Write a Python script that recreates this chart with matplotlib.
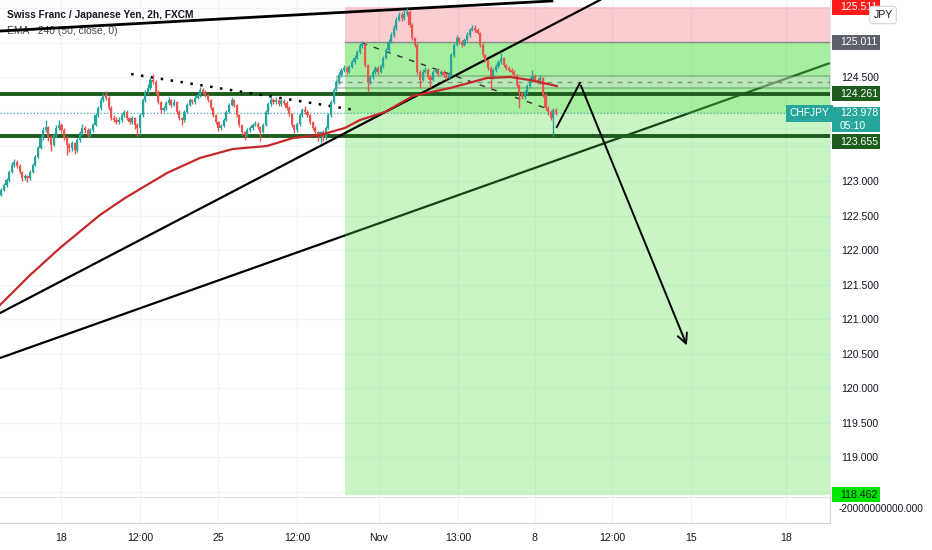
import numpy as np
import matplotlib.pyplot as plt
from matplotlib.patches import Rectangle

plt.rcParams['font.family'] = ['Liberation Sans Narrow', 'Liberation Sans', 'DejaVu Sans']

# --- data (2h candles, CHFJPY) ---
first_open = 122.80
closes = [122.869, 122.942, 123.014, 123.130, 123.231, 123.275, 123.217, 123.130, 123.043, 123.072,
          123.043, 123.130, 123.231, 123.347, 123.477, 123.622, 123.738, 123.781, 123.636, 123.521,
          123.665, 123.767, 123.810, 123.738, 123.622, 123.521, 123.477, 123.550, 123.448, 123.593,
          123.694, 123.767, 123.738, 123.665, 123.738, 123.810, 123.955, 124.056, 124.172, 124.244,
          124.201, 124.056, 123.911, 123.883, 123.854, 123.883, 123.955, 123.998, 123.911, 123.854,
          123.911, 123.810, 123.767, 123.955, 124.172, 124.287, 124.345, 124.461, 124.432, 124.287,
          124.143, 124.027, 124.056, 124.128, 124.172, 124.099, 124.143, 123.998, 123.911, 123.883,
          123.998, 124.099, 124.172, 124.143, 124.201, 124.244, 124.316, 124.287, 124.244, 124.172,
          124.056, 123.955, 123.854, 123.767, 123.796, 123.883, 123.998, 124.099, 124.172, 124.099,
          123.955, 123.810, 123.709, 123.665, 123.738, 123.767, 123.810, 123.825, 123.781, 123.709,
          123.810, 123.998, 124.114, 124.172, 124.143, 124.172, 124.114, 124.157, 124.128, 124.056,
          123.969, 123.810, 123.738, 123.825, 123.955, 124.027, 123.998, 123.955, 123.854, 123.767,
          123.709, 123.651, 123.709, 123.622, 123.767, 123.955, 124.143, 124.316, 124.432, 124.534,
          124.606, 124.635, 124.577, 124.649, 124.722, 124.780, 124.866, 124.953, 124.982, 124.678,
          124.432, 124.505, 124.577, 124.635, 124.577, 124.664, 124.780, 124.895, 125.011, 125.112,
          125.214, 125.329, 125.402, 125.358, 125.416, 125.445, 125.257, 125.069, 124.968, 124.577,
          124.461, 124.577, 124.606, 124.505, 124.461, 124.577, 124.606, 124.548, 124.577, 124.534,
          124.490, 124.534, 124.823, 124.968, 125.069, 125.011, 124.968, 125.040, 125.112, 125.185,
          125.214, 125.185, 125.141, 124.968, 124.823, 124.751, 124.635, 124.490, 124.606, 124.664,
          124.722, 124.780, 124.678, 124.635, 124.606, 124.577, 124.534, 124.389, 124.273, 124.215,
          124.287, 124.374, 124.461, 124.519, 124.461, 124.432, 124.490, 124.244, 124.056, 123.998,
          123.911, 124.027, 123.978]
highs = [122.90, 122.97, 123.05, 123.16, 123.27, 123.32, 123.31, 123.24, 123.15, 123.10,
         123.09, 123.16, 123.26, 123.38, 123.51, 123.66, 123.78, 123.88, 123.80, 123.66,
         123.70, 123.81, 123.88, 123.84, 123.76, 123.65, 123.55, 123.58, 123.57, 123.62,
         123.72, 123.82, 123.80, 123.76, 123.77, 123.84, 123.99, 124.09, 124.21, 124.28,
         124.30, 124.23, 124.08, 123.95, 123.92, 123.92, 123.99, 124.03, 124.02, 123.93,
         123.94, 123.93, 123.84, 123.98, 124.20, 124.32, 124.40, 124.50, 124.55, 124.46,
         124.31, 124.16, 124.09, 124.16, 124.21, 124.19, 124.18, 124.16, 124.02, 123.93,
         124.03, 124.13, 124.20, 124.19, 124.23, 124.27, 124.36, 124.34, 124.31, 124.26,
         124.19, 124.07, 123.97, 123.87, 123.82, 123.91, 124.03, 124.13, 124.21, 124.19,
         124.12, 123.97, 123.83, 123.73, 123.77, 123.80, 123.84, 123.87, 123.85, 123.80,
         123.84, 124.03, 124.15, 124.23, 124.20, 124.21, 124.19, 124.19, 124.18, 124.16,
         124.08, 123.99, 123.83, 123.85, 123.98, 124.06, 124.08, 124.02, 123.97, 123.87,
         123.79, 123.73, 123.73, 123.74, 123.79, 123.98, 124.17, 124.35, 124.46, 124.57,
         124.64, 124.68, 124.66, 124.68, 124.75, 124.82, 124.90, 124.99, 125.03, 125.00,
         124.70, 124.54, 124.61, 124.67, 124.66, 124.70, 124.81, 124.93, 125.05, 125.15,
         125.26, 125.37, 125.45, 125.44, 125.47, 125.51, 125.47, 125.28, 125.09, 124.99,
         124.60, 124.62, 124.65, 124.63, 124.53, 124.61, 124.64, 124.63, 124.61, 124.60,
         124.56, 124.57, 124.85, 125.00, 125.11, 125.09, 125.04, 125.07, 125.15, 125.22,
         125.26, 125.26, 125.21, 125.16, 124.99, 124.84, 124.77, 124.66, 124.64, 124.70,
         124.75, 124.85, 124.80, 124.70, 124.66, 124.63, 124.60, 124.55, 124.41, 124.30,
         124.32, 124.40, 124.50, 124.61, 124.55, 124.49, 124.53, 124.51, 124.27, 124.08,
         124.02, 124.05, 124.06]
lows = [122.78, 122.85, 122.92, 122.99, 123.11, 123.20, 123.19, 123.10, 123.00, 123.02,
        122.98, 123.02, 123.11, 123.21, 123.33, 123.46, 123.60, 123.71, 123.58, 123.44,
        123.50, 123.64, 123.74, 123.70, 123.59, 123.38, 123.42, 123.44, 123.39, 123.42,
        123.57, 123.67, 123.70, 123.63, 123.64, 123.71, 123.79, 123.93, 124.03, 124.15,
        124.17, 124.03, 123.88, 123.85, 123.82, 123.83, 123.86, 123.93, 123.88, 123.82,
        123.83, 123.75, 123.65, 123.66, 123.93, 124.15, 124.26, 124.32, 124.40, 124.26,
        124.12, 123.99, 124.00, 124.03, 124.10, 124.07, 124.08, 123.97, 123.88, 123.81,
        123.86, 123.98, 124.08, 124.11, 124.12, 124.18, 124.22, 124.26, 124.22, 124.15,
        124.03, 123.93, 123.82, 123.73, 123.74, 123.78, 123.87, 123.98, 124.08, 124.07,
        123.93, 123.78, 123.67, 123.59, 123.64, 123.71, 123.74, 123.79, 123.75, 123.58,
        123.69, 123.79, 123.97, 124.09, 124.11, 124.12, 124.08, 124.09, 124.10, 124.03,
        123.94, 123.78, 123.70, 123.71, 123.80, 123.93, 123.97, 123.92, 123.82, 123.74,
        123.68, 123.58, 123.55, 123.58, 123.60, 123.75, 123.93, 124.12, 124.30, 124.40,
        124.51, 124.58, 124.55, 124.56, 124.63, 124.70, 124.76, 124.84, 124.93, 124.65,
        124.29, 124.40, 124.48, 124.55, 124.55, 124.56, 124.64, 124.76, 124.87, 124.99,
        125.09, 125.19, 125.31, 125.32, 125.33, 125.39, 125.23, 125.04, 124.94, 124.55,
        124.35, 124.44, 124.56, 124.48, 124.34, 124.44, 124.56, 124.52, 124.53, 124.50,
        124.46, 124.47, 124.52, 124.80, 124.95, 124.98, 124.94, 124.95, 125.02, 125.09,
        125.17, 125.16, 125.12, 124.94, 124.80, 124.72, 124.61, 124.31, 124.47, 124.58,
        124.64, 124.70, 124.65, 124.61, 124.58, 124.55, 124.50, 124.36, 124.05, 124.18,
        124.19, 124.26, 124.35, 124.44, 124.43, 124.40, 124.41, 124.22, 124.03, 123.96,
        123.88, 123.65, 123.95]

# EMA 50 (240 min) points: (bar, price)
ema_bar = [-0.5, 11.0, 22.4, 37.7, 47.3, 63.3, 75.9, 88.5, 101.5, 111.5,
           121.8, 131.3, 137.1, 146.6, 157.3, 171.5, 185.6, 194.4, 202.0, 212.3]
ema_val = [121.205, 121.639, 122.030, 122.508, 122.754, 123.115, 123.333, 123.463, 123.506, 123.622,
           123.665, 123.767, 123.883, 123.998, 124.230, 124.345, 124.490, 124.505, 124.461, 124.374]

# time axis
tick_pos = [22.8, 53.0, 82.8, 113.0, 144.3, 174.5, 203.9, 233.4, 263.6, 299.9]
tick_lbl = ['18', '12:00', '25', '12:00', 'Nov', '13:00', '8', '12:00', '15', '18']
price_ticks = [119.0, 119.5, 120.0, 120.5, 121.0, 121.5, 122.0, 122.5, 123.0, 124.5]
grid_levels = [118.5, 119.0, 119.5, 120.0, 120.5, 121.0, 121.5, 122.0, 122.5, 123.0,
               123.5, 124.0, 124.5, 125.0, 125.5]

# levels / position tool
stop_price = 125.511
entry_price = 125.011
target_price = 118.462
last_price = 123.978
resistance = 124.261
support = 123.655
zone_top, zone_bot, zone_mid = 124.519, 124.345, 124.432
position_start = 131.3
zone_start = 128.3

# drawings (bar, price)
top_line = ([-0.5, 210.4], [125.170, 125.605])
rise_line = ([-0.5, 228.8], [121.089, 125.619])
long_line = ([-0.5, 316.7], [120.438, 124.707])
dotted_line = ([49.6, 135.2], [124.548, 124.027])
dashed_line = ([137.8, 208.9], [124.997, 124.042])
arrow_bar = [212.3, 221.1, 262.4]
arrow_val = [123.781, 124.418, 120.583]

# --- figure ---
W, H = 932, 550
fig = plt.figure(figsize=(W / 100, H / 100), dpi=100)
ax = fig.add_axes([0, 1 - 497 / H, 830 / W, 497 / H])
ax2 = fig.add_axes([0, 1 - 523 / H, 830 / W, 26 / H])

XMIN, XMAX = -0.5, 316.7
ax.set_xlim(XMIN, XMAX)
ax.set_ylim(118.427, 125.619)

up_c, dn_c = '#26a69a', '#ef5350'
txt_c = '#131722'
fs = 7.6

# grid
for g in grid_levels:
    ax.axhline(g, color='#f0f3fa', lw=0.9, zorder=0)
for t in tick_pos:
    ax.axvline(t, color='#f0f3fa', lw=0.9, zorder=0)
    ax2.axvline(t, color='#f0f3fa', lw=0.9, zorder=0)

# long trendline sits under the position box
ax.plot(*long_line, color='black', lw=1.6, zorder=1, solid_capstyle='butt')

# position tool (short)
ax.add_patch(Rectangle((position_start, entry_price), XMAX - position_start, stop_price - entry_price,
                       fc='#f23645', alpha=0.25, ec='none', zorder=2))
ax.add_patch(Rectangle((position_start, last_price), XMAX - position_start, entry_price - last_price,
                       fc='#4ce040', alpha=0.5, ec='none', zorder=2))
ax.add_patch(Rectangle((position_start, target_price), XMAX - position_start, last_price - target_price,
                       fc='#4ce040', alpha=0.3, ec='none', zorder=2))
ax.plot([position_start, XMAX], [entry_price, entry_price], color='#8a8a8a', lw=1.0, zorder=3)

# zone rectangle
ax.add_patch(Rectangle((zone_start, zone_bot), XMAX - zone_start, zone_top - zone_bot,
                       fc='#d8dde6', alpha=0.35, ec='#1e5c1e', lw=1.1, zorder=3))
ax.plot([zone_start, XMAX], [zone_mid, zone_mid], color='#7d8a7d', lw=0.9, ls=(0, (4, 4)), zorder=3)

# horizontal S/R lines
for lvl in (resistance, support):
    ax.axhline(lvl, color='#1e5c1e', lw=2.8, zorder=4)
ax.axhline(last_price, color=up_c, lw=0.8, ls=(0, (1, 2)), zorder=4)

# other trendlines
ax.plot(*top_line, color='black', lw=2.0, zorder=4)
ax.plot(*rise_line, color='black', lw=1.6, zorder=4)
ax.plot(*dotted_line, color='black', lw=1.8, ls=(0, (1, 3)), zorder=4)
ax.plot(*dashed_line, color='#333333', lw=1.0, ls=(0, (4, 5)), zorder=4)

# candles
c = np.array(closes)
o = np.array([first_open] + closes[:-1])
hi = np.array(highs)
lo = np.array(lows)
x = np.arange(len(c))
cols = np.where(c >= o, up_c, dn_c)
ax.vlines(x, lo, hi, colors=cols, lw=1.0, zorder=5)
ax.bar(x, np.maximum(np.abs(c - o), 0.015), bottom=np.minimum(o, c), width=0.82,
       color=cols, lw=0, zorder=6)

# EMA
ax.plot(ema_bar, ema_val, color='#c62828', lw=1.6, zorder=7)

# arrow drawing
ax.plot(arrow_bar[:2], arrow_val[:2], color='black', lw=1.4, zorder=8)
ax.annotate('', xy=(arrow_bar[2], arrow_val[2]), xytext=(arrow_bar[1], arrow_val[1]),
            arrowprops=dict(arrowstyle='->,head_length=0.7,head_width=0.35', color='black', lw=1.4),
            zorder=8)

# header
ax.text(7 / 830, 1 - 15 / 497, 'Swiss Franc / Japanese Yen, 2h, FXCM', transform=ax.transAxes,
        fontsize=7.3, fontweight='bold', color=txt_c, va='center', ha='left', zorder=0.5)
ax.text(7 / 830, 1 - 31 / 497, 'EMA · 240 (50, close, 0)', transform=ax.transAxes,
        fontsize=7.4, color='#434651', va='center', ha='left', zorder=0.5)

# price scale
ax.yaxis.tick_right()
ax.set_yticks(price_ticks)
ax.set_yticklabels(['%.3f' % p for p in price_ticks])
ax.tick_params(axis='y', length=0, pad=8, labelsize=fs, labelcolor=txt_c)
ax.set_xticks([])
for s in ('top', 'left', 'bottom'):
    ax.spines[s].set_visible(False)
ax.spines['right'].set_color('#e0e3eb')

# badges on the price scale (lower one shifted down as on the chart)
ytr = ax.get_yaxis_transform()
bh = 0.217
badges = [(stop_price, stop_price, '125.511', '#ff1a1a', 'white'),
          (entry_price, entry_price, '125.011', '#5d606b', 'white'),
          (resistance, resistance, '124.261', '#1e5c1e', 'white'),
          (support, 123.571, '123.655', '#1e5c1e', 'white'),
          (target_price, target_price, '118.462', '#00e600', txt_c)]
for p, pos, t, fc, tc in badges:
    ax.add_patch(Rectangle((1.0025, pos - bh / 2), 0.058, bh, transform=ytr, fc=fc, ec='none',
                           clip_on=False, zorder=20))
    ax.text(1.012, pos, t, transform=ytr, color=tc, fontsize=fs, va='center', ha='left',
            clip_on=False, zorder=21)
# last price badge (two lines)
ax.add_patch(Rectangle((1.0025, 123.708), 0.058, 0.363, transform=ytr, fc=up_c, ec='none',
                       clip_on=False, zorder=22))
ax.text(1.012, last_price, '123.978', transform=ytr, color='white', fontsize=fs, va='center',
        ha='left', clip_on=False, zorder=23)
ax.text(1.012, 123.790, '05:10', transform=ytr, color='white', fontsize=fs, va='center',
        ha='left', clip_on=False, zorder=23)
ax.text(0.999, last_price, 'CHFJPY', transform=ytr, color='white', fontsize=7.4, va='center',
        ha='right', zorder=21, bbox=dict(boxstyle='square,pad=0.35', fc=up_c, ec='none'))

fig.text(883 / W, 1 - 15 / H, 'JPY', fontsize=7.6, color=txt_c, ha='center', va='center', zorder=30,
         bbox=dict(boxstyle='round,pad=0.35,rounding_size=0.3', fc='white', ec='#d1d4dc', lw=0.8))

# lower pane + time axis
ax2.set_xlim(XMIN, XMAX)
ax2.set_ylim(0, 1)
ax2.set_yticks([])
ax2.set_xticks(tick_pos)
ax2.set_xticklabels(tick_lbl)
ax2.tick_params(axis='x', length=0, pad=7, labelsize=fs, labelcolor=txt_c)
ax2.spines['left'].set_visible(False)
ax2.spines['top'].set_color('#e0e3eb')
ax2.spines['bottom'].set_color('#d1d4dc')
ax2.spines['right'].set_color('#d1d4dc')
ax2.text(1.01, 0.55, '-20000000000.000', transform=ax2.transAxes, fontsize=7.3, color=txt_c,
         va='center', ha='left', clip_on=False)

fig.savefig('out.png', dpi=100)
